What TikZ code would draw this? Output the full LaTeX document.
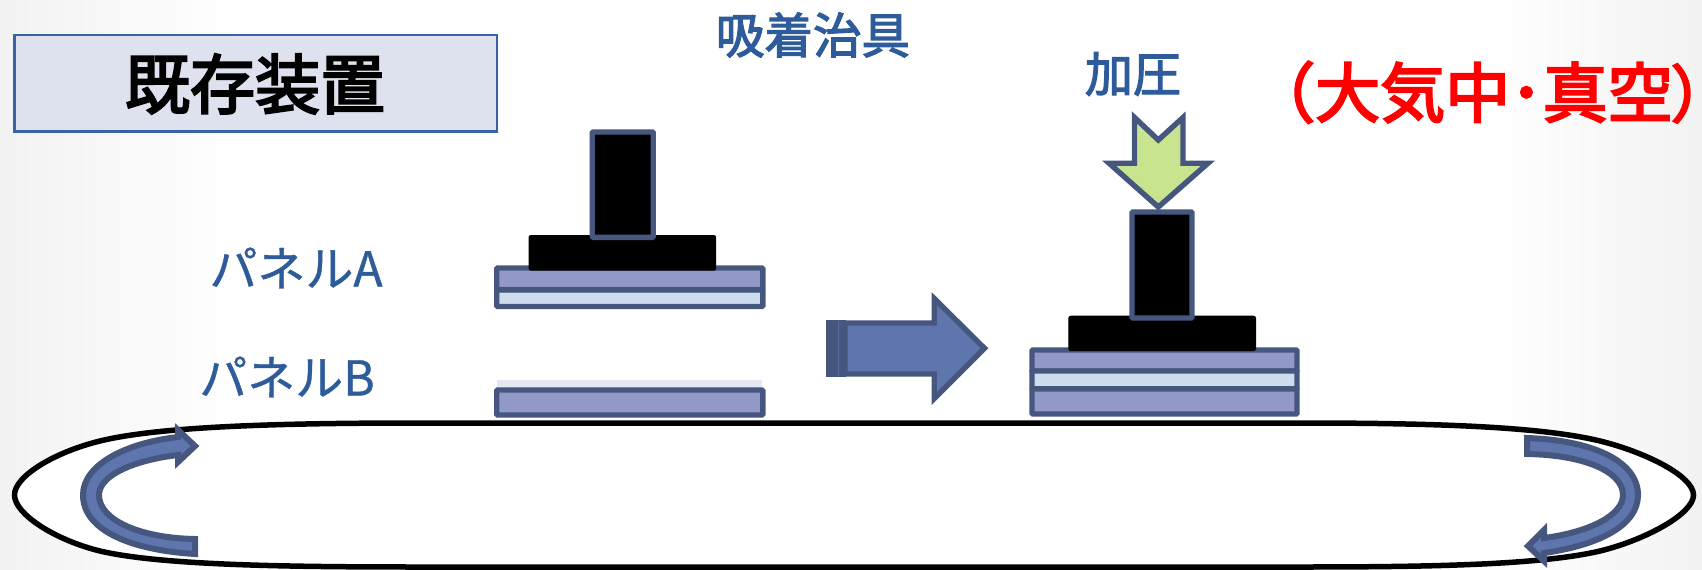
\documentclass[tikz,border=0pt]{standalone}
\usepackage{fontspec}
\newfontfamily\jp[FakeBold=0.8]{Noto Sans CJK JP}
\newfontfamily\jpb[FakeBold=2.6]{Noto Sans CJK JP}
\newfontfamily\jpm[FakeBold=3.4]{Noto Sans CJK JP}
\newfontfamily\jph[FakeBold=3.4,RawFeature={+halt}]{Noto Sans CJK JP}
\definecolor{linec}{HTML}{46577F}
\definecolor{arrowf}{HTML}{5E75AE}
\definecolor{platef}{HTML}{9299C9}
\definecolor{palef}{HTML}{CFDCEE}
\definecolor{greenf}{HTML}{C9E48E}
\definecolor{textb}{HTML}{2E5C9A}
\definecolor{boxf}{HTML}{DEE2EE}
\definecolor{boxl}{HTML}{3A63A3}
\definecolor{edgeg}{HTML}{F2F2F2}
\tikzset{
  shapeline/.style={draw=linec,line width=5.4pt},
  plate/.style={shapeline,fill=platef,rounded corners=1pt},
  pale/.style={shapeline,fill=palef,rounded corners=1pt},
  blackcol/.style={shapeline,fill=black,rounded corners=1pt},
  blackblock/.style={draw=black,line width=1pt,fill=black,rounded corners=2pt},
  bluearrow/.style={shapeline,fill=arrowf,line join=miter},
  curvearrow/.style={bluearrow,line width=6pt},
  bluetext/.style={text=textb,inner sep=0pt},
}
\begin{document}
\begin{tikzpicture}[x=1pt,y=-1pt]
\useasboundingbox (0,0) rectangle (1702,570);
\fill[white] (0,0) rectangle (1702,570);
\shade[left color=edgeg,right color=white] (0,0) rectangle (240,570);
\shade[left color=white,right color=edgeg] (1490,0) rectangle (1702,570);
% title
\node[draw=boxl,line width=2.5pt,fill=boxf,minimum width=482.5pt,minimum height=96.5pt,inner sep=0pt,anchor=north west,outer sep=0pt] (titlebox) at (14.5,35) {};
\node[inner sep=0pt,font=\jpm\fontsize{65}{65}\selectfont,text=black] (title) at (255,84) {既存装置};
% labels
\node[bluetext,font=\jpb\fontsize{48.5}{48}\selectfont] (jig) at (813,35) {吸着治具};
\node[bluetext,font=\jpb\fontsize{48}{48}\selectfont] (press) at (1133,74) {加圧};
\node[inner sep=0pt,anchor=base west,text=red,font=\jpm\fontsize{65}{65}\selectfont] (cond) at (1250,117) {（大気中･真空};
\node[inner sep=0pt,anchor=base west,text=red,font=\jph\fontsize{62}{65}\selectfont] (condend) at (1670.5,117) {）};
\node[bluetext,font=\jp\fontsize{48}{48}\selectfont] (panelA) at (296,268) {パネルA};
\node[bluetext,font=\jp\fontsize{48}{48}\selectfont] (panelB) at (287,377) {パネルB};
% belt
\draw[draw=black,line width=5.5pt,fill=white]
  (14.5,495) .. controls (14.5,476) and (55,452) .. (100,441)
  .. controls (160,426.3) and (280,423) .. (420,423)
  -- (1300,423)
  .. controls (1430,423) and (1540,426.3) .. (1600,441)
  .. controls (1645,452) and (1693.5,476) .. (1693.5,495)
  .. controls (1693.5,514) and (1645,540) .. (1600,551)
  .. controls (1540,565) and (1430,567) .. (1300,567)
  -- (420,567)
  .. controls (280,567) and (160,565) .. (100,551)
  .. controls (55,540) and (14.5,514) .. (14.5,495) -- cycle;
% left group
\fill[fill=boxf!80!white] (496.9,380) rectangle (762,388);
\draw[pale] (496.7,290) rectangle (762.8,306.5);
\draw[plate] (496.7,268) rectangle (762.8,289.5);
\draw[plate] (496.7,390) rectangle (762.8,415);
\draw[blackblock] (529,235.5) rectangle (715.7,270.2);
\draw[blackcol] (592.2,132) rectangle (653.2,237.3);
% big arrow
\draw[bluearrow] (845,323) -- (934.2,323) -- (934.2,298.5) -- (984.5,348.3) -- (934.2,398.5) -- (934.2,374) -- (845,374) -- cycle;
\fill[linec] (826.4,320.3) rectangle (846,376.7);
\draw[arrowf!70!linec,line width=0.8pt] (838.5,321) -- (838.5,376);
% right group
\draw[plate] (1032,350) rectangle (1297,371);
\draw[pale] (1032,371) rectangle (1297,388.8);
\draw[plate] (1032,388.8) rectangle (1297,414);
\draw[blackblock] (1068.8,316.2) rectangle (1255.5,350.5);
\draw[blackcol] (1132,212) rectangle (1192,318);
\draw[shapeline,fill=greenf,line join=miter] (1134.5,117.5) -- (1158.3,140) -- (1183,117.5) -- (1183,163.2) -- (1208,163.2) -- (1158.3,207) -- (1109,163.2) -- (1134.5,163.2) -- cycle;
% turning arrows
\draw[curvearrow] (195,554) .. controls (130,550) and (83,530) .. (83,495)
  .. controls (83,465) and (125,443) .. (178,437) -- (178,430) -- (195,446) -- (178,462) -- (178,455)
  .. controls (135,460) and (99,475) .. (99,495)
  .. controls (99,520) and (140,538) .. (195,539) -- cycle;
\draw[curvearrow] (1527,438) .. controls (1590,440) and (1638,460) .. (1638,495)
  .. controls (1638,525) and (1600,545) .. (1544,553) -- (1544,561) -- (1528,546) -- (1544,530) -- (1544,538)
  .. controls (1590,532) and (1623,515) .. (1623,495)
  .. controls (1623,472) and (1585,455) .. (1527,454) -- cycle;
\end{tikzpicture}
\end{document}
